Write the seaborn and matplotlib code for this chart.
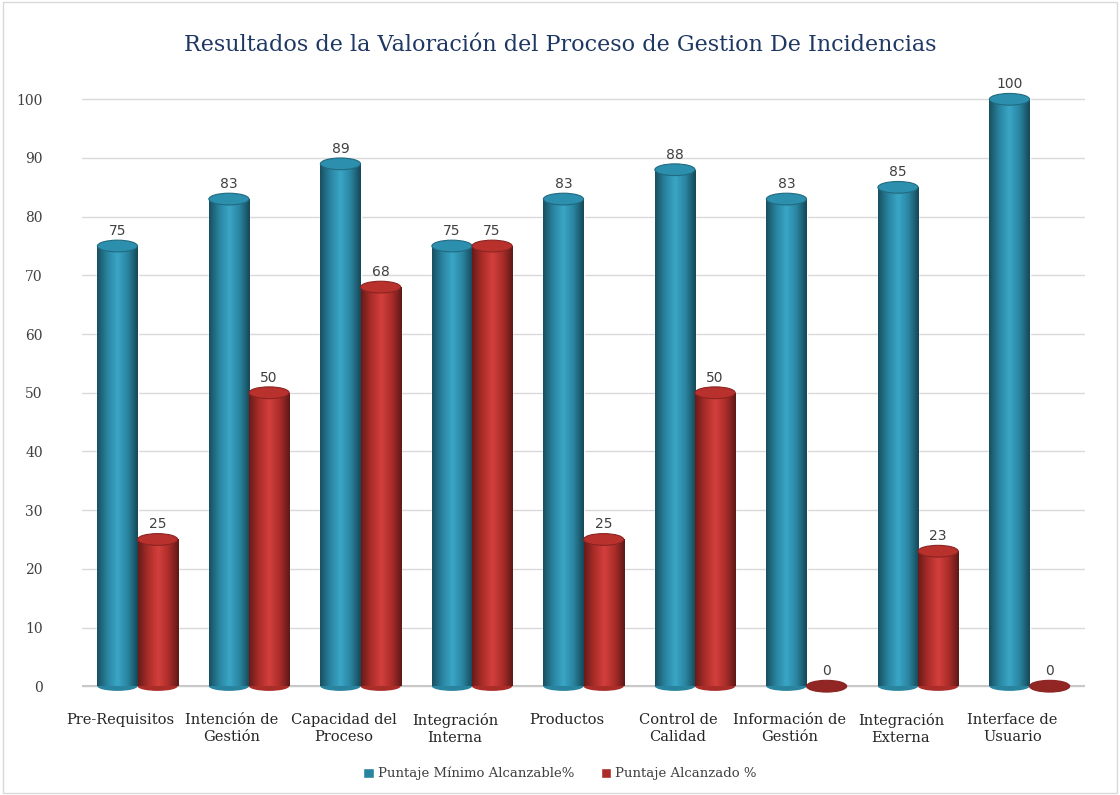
import numpy as np
import pandas as pd
import matplotlib
matplotlib.use("Agg")
import matplotlib.pyplot as plt
import matplotlib.transforms as mtrans
import seaborn as sns
from matplotlib.patches import Ellipse, Patch
from matplotlib.colors import LinearSegmentedColormap

categories = ["Pre-Requisitos", "Intención de\nGestión", "Capacidad del\nProceso",
              "Integración\nInterna", "Productos", "Control de\nCalidad",
              "Información de\nGestión", "Integración\nExterna", "Interface de\nUsuario"]
series_names = ["Puntaje Mínimo Alcanzable%", "Puntaje Alcanzado %"]
minimo = [75, 83, 89, 75, 83, 88, 83, 85, 100]
alcanzado = [25, 50, 68, 75, 25, 50, 0, 23, 0]
y_ticks = [0, 10, 20, 30, 40, 50, 60, 70, 80, 90, 100]

df = pd.DataFrame({
    "cat": categories * 2,
    "serie": [series_names[0]] * len(categories) + [series_names[1]] * len(categories),
    "valor": minimo + alcanzado,
})

teal = "#2984a0"
red = "#ab2d2a"
palette = {series_names[0]: teal, series_names[1]: red}

sns.set_theme(style="white")
plt.rcParams["font.family"] = ["DejaVu Serif"]

fig = plt.figure(figsize=(11.2, 7.95), dpi=100)
fig.patch.set_facecolor("white")
ax = fig.add_axes([0.073, 0.128, 0.896, 0.784])

sns.barplot(data=df, x="cat", y="valor", hue="serie", palette=palette,
            width=0.72, dodge=True, saturation=1, ax=ax, legend=False,
            order=categories, hue_order=series_names)

ax.set_yticks(y_ticks)
ax.yaxis.grid(True, color="#d9d9d9", linewidth=1)
ax.set_axisbelow(True)
for s in ax.spines.values():
    s.set_visible(False)
ax.axhline(0, color="#c8c8c8", linewidth=1.5, zorder=1)
ax.set_xlabel("")
ax.set_ylabel("")
ax.tick_params(axis="y", labelsize=10, colors="#404040", pad=28, length=0)
ax.tick_params(axis="x", labelsize=10.5, colors="#262626", pad=14, length=0)
shift = mtrans.ScaledTranslation(-17 / 100, 0, fig.dpi_scale_trans)
for t in ax.get_xticklabels():
    t.set_linespacing(1.3)
    t.set_transform(t.get_transform() + shift)

def shade_cmap(c):
    base = np.array(matplotlib.colors.to_rgb(c))
    dark = base * 0.6
    light = np.clip(base * 1.18 + 0.04, 0, 1)
    return LinearSegmentedColormap.from_list("s", [dark, base, light, base, dark * 0.9])

grad = np.linspace(0, 1, 256).reshape(1, -1)
bars = [p for p in ax.patches if p.get_width() > 0]
for p in bars:
    col = p.get_facecolor()
    x0, w, h = p.get_x(), p.get_width(), p.get_height()
    if h > 0:
        im = ax.imshow(grad, extent=[x0, x0 + w, 0, h], aspect="auto",
                       cmap=shade_cmap(col), zorder=2.5, interpolation="bilinear")
        im.set_clip_path(p)
    ax.add_patch(Ellipse((x0 + w / 2, 0), w, 1.6, facecolor=col, edgecolor="none", zorder=2.4))
    base = np.array(col[:3])
    topc = np.clip(base * 1.08, 0, 1) if h > 0 else base * 0.85
    ax.add_patch(Ellipse((x0 + w / 2, h), w, 2.0, facecolor=topc,
                         edgecolor=base * 0.8, linewidth=0.8, zorder=3))
    ax.text(x0 + w / 2, h + 1.4, f"{h:.0f}", ha="center", va="bottom",
            fontsize=10, color="#404040", family="DejaVu Sans", zorder=4)

ax.set_ylim(-1.2, 105)
ax.set_xlim(-0.5, 8.5)

handles = [Patch(facecolor=teal, label=series_names[0]), Patch(facecolor=red, label=series_names[1])]
fig.legend(handles=handles, loc="center", bbox_to_anchor=(0.5, 0.027), ncol=2, frameon=False,
           fontsize=9.5, handlelength=0.8, handleheight=0.8, handletextpad=0.3, columnspacing=2.0,
           labelcolor="#404040")

fig.text(0.5, 0.943, "Resultados de la Valoración del Proceso de Gestion De Incidencias",
         ha="center", va="center", fontsize=16, color="#1f3763", family="DejaVu Serif")

border = plt.Rectangle((0.003, 0.003), 0.994, 0.994, transform=fig.transFigure,
                       fill=False, edgecolor="#d9d9d9", linewidth=1)
fig.patches.append(border)

fig.savefig("out.png", dpi=100)
